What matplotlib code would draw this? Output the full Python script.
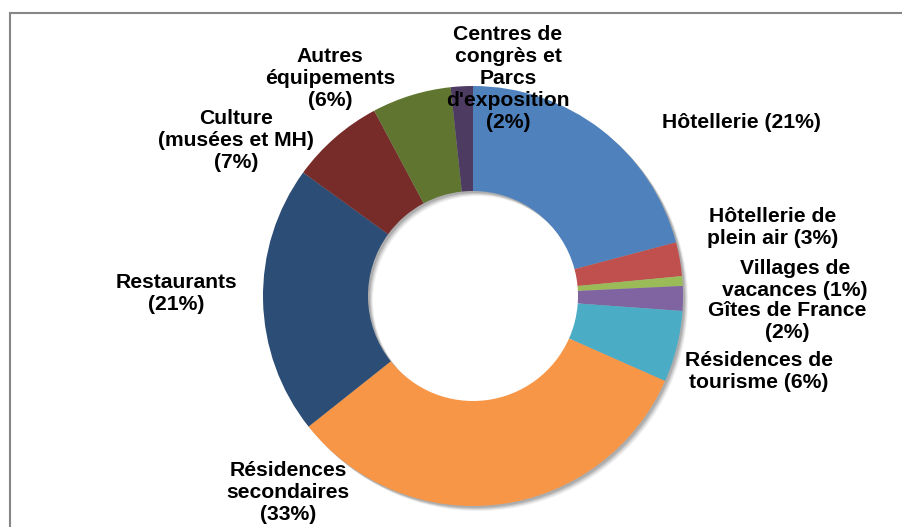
import matplotlib.pyplot as plt
from matplotlib.patches import Wedge

# Share of each type of equipment
labels = ["Hôtellerie (21%)", "Hôtellerie de\nplein air (3%)", "Villages de\nvacances (1%)",
          "Gîtes de France\n(2%)", "Résidences de\ntourisme (6%)", "Résidences\nsecondaires\n(33%)",
          "Restaurants\n(21%)", "Culture\n(musées et MH)\n(7%)", "Autres\néquipements\n(6%)",
          "Centres de\ncongrès et\nParcs\nd'exposition\n(2%)"]
values = [20.9, 2.6, 0.75, 1.9, 5.5, 32.7, 20.7, 7.2, 6.1, 1.7]
colors = ["#4F81BD", "#C0504D", "#9BBB59", "#8064A2", "#4BACC6",
          "#F79646", "#2C4D75", "#772C2A", "#5F7530", "#4D3B62"]
# label anchor points (pixels from top-left of the picture)
label_pos = [(741, 122), (773, 227), (795, 280), (787, 322), (759, 372),
             (288, 493), (176, 294), (236, 140), (330, 79), (508, 79)]

W, H = 902, 527
fig = plt.figure(figsize=(W / 100, H / 100), dpi=100)
ax = fig.add_axes([0, 0, 1, 1])

cx, cy = 473, H - 296
r_out, r_in = 210, 105

# soft shadow under the ring
for off, a in [(5, 0.06), (4, 0.08), (3, 0.1), (2, 0.12)]:
    ax.add_patch(Wedge((cx + off, cy - off), r_out, 0, 360, width=r_out - r_in,
                       facecolor='black', alpha=a, lw=0, zorder=1))

wedges, _ = ax.pie(values, colors=colors, startangle=90, counterclock=False,
                   center=(cx, cy), radius=r_out, frame=True,
                   wedgeprops=dict(width=r_out - r_in, linewidth=0))
for w in wedges:
    w.set_zorder(2)
ax.set_xlim(0, W)
ax.set_ylim(0, H)
ax.axis('off')

for lab, (x, y) in zip(labels, label_pos):
    ax.text(x, H - y, lab, ha='center', va='center', fontsize=15.2, fontweight='bold',
            family='Liberation Sans', linespacing=1.2, zorder=3)

# chart frame (left and top edges visible)
ax.plot([9.5, 9.5, W + 5], [-5, H - 13, H - 13], color='#868686', lw=1.5, zorder=0,
        solid_joinstyle='miter')

fig.savefig('out.png', dpi=100)
